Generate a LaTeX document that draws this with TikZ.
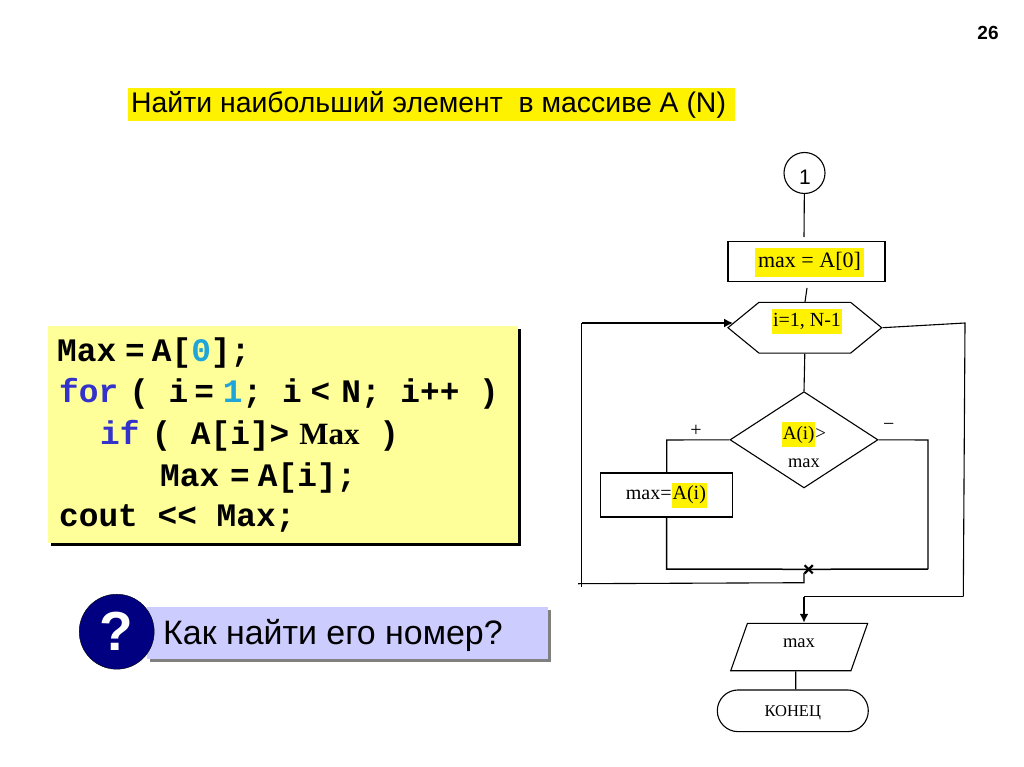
\documentclass[tikz,border=0pt]{standalone}
\usepackage{xcolor}
\usepackage{fontspec}
\setmainfont{Liberation Serif}
\newfontfamily\arialfont{Liberation Sans}
\newfontfamily\courfont{Liberation Mono}
\usetikzlibrary{shapes.geometric,shapes.misc,shapes.symbols,shadows,arrows.meta}
\frenchspacing
\definecolor{codebg}{HTML}{FFFF99}
\definecolor{askbg}{HTML}{CCCCFF}
\definecolor{askball}{HTML}{000080}
\definecolor{kwblue}{HTML}{3333CC}
\definecolor{numblue}{HTML}{1FA5D8}
\setlength{\fboxsep}{1pt}
\newcommand{\hl}[1]{\colorbox{yellow}{\strut #1}}
\newcommand{\sk}[1]{\hspace{#1pt}}
\tikzset{
  flowtxt/.style={font=\fontsize{20}{23}\selectfont,inner sep=0pt},
  flowbox/.style={draw,line width=1.1pt,flowtxt,minimum width=157pt,minimum height=40pt},
  flowline/.style={line width=1.1pt},
  loopline/.style={line width=1.5pt},
  flowarrow/.style={-{Latex[length=9pt,width=9pt]}},
  codetxt/.style={anchor=base west,inner sep=0pt,font=\courfont\bfseries\fontsize{32.8}{40}\selectfont},
}
\begin{document}
\begin{tikzpicture}[x=1pt,y=-1pt]
\useasboundingbox (0,0) rectangle (1024,767);
\node[font=\arialfont\bfseries\fontsize{19}{22}\selectfont] (pagenum) at (988,33) {26};
\node[fill=yellow,minimum width=607pt,minimum height=33pt,inner sep=0pt] (titlebg) at (431.5,104.5) {};
\node[anchor=west,inner sep=0pt,font=\arialfont\fontsize{28.4}{32}\selectfont] (title) at (131,105) {Найти наибольший элемент\ \ в массиве А (N)};
%
\node[fill=codebg,minimum width=470pt,minimum height=217pt,inner sep=0pt,
  drop shadow={shadow xshift=2.5pt,shadow yshift=-2.5pt,fill=black,opacity=1}] (codebox) at (283,434.5) {};
\node[codetxt] (codeA) at (57,361.7) {Max\sk{9}=\sk{7}A[\textcolor{numblue}{0}];};
\node[codetxt] (codeB) at (59,402.3) {\textcolor{kwblue}{for}\sk{11}( i\sk{6}=\sk{9}\textcolor{numblue}{1}; i\sk{9}<\sk{11}N; i++ )};
\node[codetxt] (codeC) at (100,444.3) {\textcolor{kwblue}{if}\sk{12}( A[i]>\sk{10}{\rmfamily\fontsize{31}{40}\selectfont Max} )};
\node[codetxt] (codeD) at (160,486) {Max\sk{11}=\sk{8}A[i];};
\node[codetxt] (codeE) at (59,526.7) {cout << Max;};
%
\node[fill=askbg,minimum width=401pt,minimum height=52.5pt,inner sep=0pt,
  drop shadow={shadow xshift=3pt,shadow yshift=-3pt,fill=gray,opacity=1}] (askbox) at (347.2,632.8) {};
\node[circle,draw=black,fill=askball,minimum size=75pt,inner sep=0pt,text=white,
  font=\arialfont\bfseries\fontsize{55}{60}\selectfont] (askball) at (116.7,631.7) {?};
\node[anchor=west,inner sep=0pt,font=\arialfont\fontsize{33.9}{40}\selectfont] (asktxt) at (163,635) {Как найти его номер?};
%
\node[circle,draw,line width=1.1pt,minimum size=41pt,inner sep=0pt] (conn) at (804.5,173) {};
\node[inner sep=0pt,font=\arialfont\fontsize{21}{24}\selectfont] (connlabel) at (805,177) {1};
\node[flowbox] (init) at (806.5,261.7) {};
\node[flowtxt,font=\fontsize{22}{23}\selectfont] (initlabel) at (809.5,262.5) {\setlength{\fboxsep}{3pt}\hl{max = A[0]}};
\node[signal,signal to=west and east,signal pointer angle=78.6,draw,line width=1.1pt,
  minimum width=153.7pt,minimum height=50.7pt,inner sep=0pt] (loop) at (804.8,327.7) {};
\node[flowtxt] (looplabel) at (807,321.5) {\hl{i=1, N-1}};
\node[diamond,aspect=1.54,draw,line width=1.1pt,
  minimum width=148pt,minimum height=96.3pt,inner sep=0pt] (test) at (804,439.8) {};
\node[flowtxt,font=\fontsize{19}{23}\selectfont] (testA) at (804,434.5) {\hl{A(i)}>};
\node[flowtxt,font=\fontsize{18.4}{22}\selectfont] (testB) at (804,463) {max};
\node[draw,line width=1.1pt,flowtxt,minimum width=132.7pt,minimum height=44pt] (assign) at (666.4,495) {max=\hl{A(i)}};
\node[draw,cross out,line width=2.2pt,minimum size=6pt,inner sep=0pt] (junc) at (808.7,569.3) {};
\node[trapezium,trapezium left angle=60,trapezium right angle=120,draw,line width=1.1pt,
  trapezium stretches=true,minimum width=137pt,minimum height=47.4pt,inner sep=0pt] (print) at (799.2,647) {\phantom{max}};
\node[flowtxt,font=\fontsize{18.6}{22}\selectfont] (printlabel) at (799,643) {max};
\node[rounded rectangle,draw,line width=1.1pt,
  minimum width=151pt,minimum height=41.7pt,inner sep=0pt] (stop) at (792.8,710.8) {};
\node[flowtxt,font=\fontsize{16.5}{20}\selectfont] (stoplabel) at (792.7,713) {КОНЕЦ};
%
\node[flowtxt] (plus) at (696,430.7) {+};
\node[flowtxt] (minus) at (888.7,426.7) {−};
%
\coordinate (connend) at (804,237);
\coordinate (initend) at (807,288);
\coordinate (hexin) at (805,302);
\coordinate (exitA) at (965,323);
\coordinate (exitB) at (963.3,596.7);
\coordinate (exitC) at (804,596.7);
\coordinate (yesA) at (666.7,440);
\coordinate (noA) at (928,440);
\coordinate (noB) at (928,569);
\coordinate (yesB) at (666.7,569);
\coordinate (backA) at (804,573);
\coordinate (backB) at (804,582.7);
\coordinate (backC) at (578,583.7);
\coordinate (backD) at (581.7,587);
\coordinate (backE) at (581.7,323);
\coordinate (backF) at (733,323);
%
\draw[flowline] (conn) -- (connend);
\draw[flowline] (initend) -- (hexin);
\draw[flowline] (loop.south) -- (test.north);
\draw[flowline] (loop.east) -- (exitA) -- (exitB);
\draw[loopline] (exitB) -- (exitC);
\draw[line width=2pt,flowarrow] (exitC) -- (print.north -| exitC);
\draw[flowline] (test.west) -- (yesA) -- (assign.north -| yesA);
\draw[loopline] (assign.south -| yesB) -- (yesB) -- (junc.center) -- (noB);
\draw[flowline] (noB) -- (noA) -- (test.east);
\draw[flowline] (backA) -- (backB) -- (backC);
\draw[flowline] (backD) -- (backE);
\draw[loopline,flowarrow] (backE) -- (backF);
\draw[flowline] ([xshift=-3.5pt]print.south) -- ([xshift=2.9pt]stop.north);
\end{tikzpicture}
\end{document}
